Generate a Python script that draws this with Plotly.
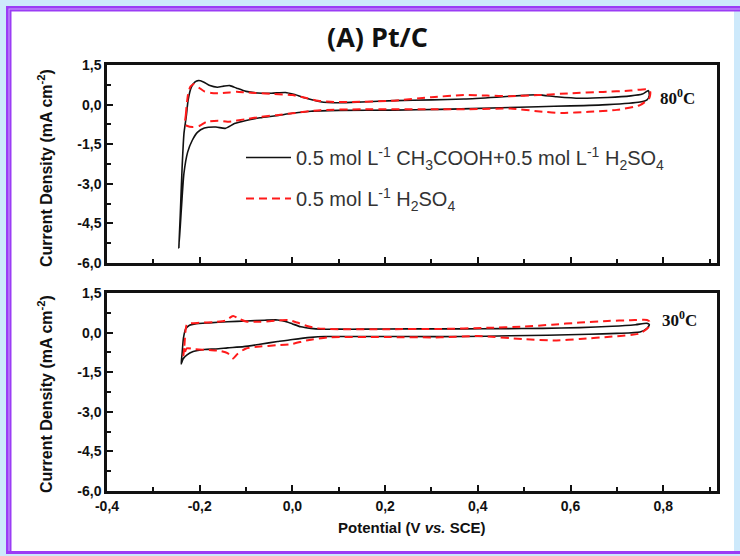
import plotly.graph_objects as go

# ---- Cyclic voltammograms on Pt/C (potential in V vs. SCE, current density in mA cm^-2) ----

# 80 °C, 0.5 mol/L CH3COOH + 0.5 mol/L H2SO4 (forward scan then reverse scan)
e_acid_80 = [-0.245, -0.242, -0.238, -0.234, -0.229, -0.225, -0.218, -0.21, -0.203, -0.192,
             -0.178, -0.162, -0.148, -0.135, -0.12, -0.1, -0.075, -0.045, -0.015, 0.005,
             0.03, 0.06, 0.1, 0.15, 0.22, 0.3, 0.37, 0.44, 0.5, 0.53,
             0.57, 0.62, 0.68, 0.73, 0.755, 0.768,
             0.77, 0.765, 0.75, 0.68, 0.6, 0.53, 0.45, 0.32, 0.22, 0.1,
             0.04, 0.0, -0.035, -0.07, -0.1, -0.125, -0.145, -0.165, -0.19, -0.205,
             -0.216, -0.226, -0.234, -0.239, -0.245]
j_acid_80 = [-5.43, -4.2, -2.4, -1.1, -0.45, 0.17, 0.66, 0.86, 0.91, 0.86,
             0.72, 0.66, 0.7, 0.72, 0.62, 0.5, 0.44, 0.43, 0.46, 0.38,
             0.24, 0.11, 0.07, 0.1, 0.15, 0.18, 0.21, 0.28, 0.35, 0.37,
             0.3, 0.24, 0.27, 0.33, 0.4, 0.53,
             0.35, 0.18, 0.1, 0.0, -0.05, -0.08, -0.12, -0.18, -0.21, -0.22,
             -0.25, -0.33, -0.42, -0.5, -0.6, -0.72, -0.9, -0.85, -0.89, -1.05,
             -1.35, -1.8, -2.6, -3.8, -5.43]

# 80 °C, 0.5 mol/L H2SO4
e_blank_80 = [-0.232, -0.23, -0.228, -0.225, -0.22, -0.212, -0.2, -0.19, -0.175, -0.155,
              -0.135, -0.12, -0.1, -0.08, -0.04, 0.0, 0.03, 0.055, 0.09, 0.13,
              0.22, 0.3, 0.37, 0.42, 0.47, 0.53, 0.6, 0.67, 0.73, 0.765,
              0.772, 0.77, 0.75, 0.7, 0.64, 0.58, 0.54, 0.47, 0.4, 0.32,
              0.15, 0.06, 0.0, -0.035, -0.07, -0.1, -0.14, -0.16, -0.185, -0.2,
              -0.215, -0.228, -0.232]
j_blank_80 = [-0.75, -0.4, 0.0, 0.4, 0.68, 0.78, 0.62, 0.5, 0.44, 0.43,
              0.46, 0.49, 0.46, 0.44, 0.4, 0.36, 0.25, 0.15, 0.1, 0.1,
              0.15, 0.28, 0.36, 0.34, 0.32, 0.36, 0.43, 0.48, 0.53, 0.58,
              0.48, 0.25, -0.02, -0.2, -0.27, -0.32, -0.27, -0.15, -0.17, -0.18,
              -0.18, -0.21, -0.33, -0.4, -0.47, -0.55, -0.65, -0.61, -0.65, -0.8,
              -0.85, -0.8, -0.75]

# 30 °C, 0.5 mol/L CH3COOH + 0.5 mol/L H2SO4
e_acid_30 = [-0.24, -0.238, -0.235, -0.23, -0.222, -0.21, -0.18, -0.14, -0.1, -0.06,
             -0.032, -0.015, 0.0, 0.018, 0.04, 0.06, 0.1, 0.15, 0.25, 0.37,
             0.45, 0.54, 0.62, 0.69, 0.74, 0.765,
             0.77, 0.765, 0.75, 0.7, 0.64, 0.55, 0.47, 0.37, 0.25, 0.1,
             0.07, 0.04, 0.0, -0.032, -0.07, -0.105, -0.14, -0.165, -0.19, -0.214,
             -0.228, -0.236, -0.24]
j_acid_30 = [-1.19, -0.8, -0.2, 0.15, 0.28, 0.33, 0.37, 0.41, 0.44, 0.47,
             0.48, 0.42, 0.33, 0.22, 0.16, 0.13, 0.13, 0.13, 0.14, 0.14,
             0.15, 0.16, 0.19, 0.24, 0.3, 0.35,
             0.3, 0.16, 0.02, -0.03, -0.06, -0.1, -0.12, -0.15, -0.15, -0.15,
             -0.15, -0.18, -0.26, -0.34, -0.44, -0.53, -0.58, -0.62, -0.64, -0.72,
             -0.85, -1.0, -1.19]

# 30 °C, 0.5 mol/L H2SO4
e_blank_30 = [-0.235, -0.233, -0.231, -0.228, -0.22, -0.2, -0.17, -0.145, -0.128, -0.115,
              -0.1, -0.07, -0.03, -0.01, 0.01, 0.03, 0.055, 0.1, 0.2, 0.32,
              0.42, 0.5, 0.56, 0.62, 0.68, 0.73, 0.765,
              0.77, 0.768, 0.75, 0.69, 0.62, 0.57, 0.5, 0.4, 0.32, 0.2,
              0.076, 0.03, 0.0, -0.035, -0.07, -0.1, -0.118, -0.128, -0.14, -0.16,
              -0.18, -0.21, -0.228, -0.235]
j_blank_30 = [-0.9, -0.5, 0.0, 0.3, 0.35, 0.37, 0.4, 0.45, 0.63, 0.52,
              0.42, 0.41, 0.46, 0.48, 0.38, 0.26, 0.16, 0.13, 0.13, 0.14,
              0.18, 0.23, 0.3, 0.38, 0.44, 0.47, 0.48,
              0.42, 0.2, -0.03, -0.15, -0.24, -0.3, -0.25, -0.13, -0.18, -0.17,
              -0.18, -0.3, -0.43, -0.48, -0.53, -0.6, -0.8, -0.98, -0.78, -0.68,
              -0.66, -0.63, -0.6, -0.9]

# Axis ticks
x_tickvals = [-0.4, -0.2, 0.0, 0.2, 0.4, 0.6, 0.8]
x_ticktext = ["-0,4", "-0,2", "0,0", "0,2", "0,4", "0,6", "0,8"]
x_minor = [-0.3, -0.1, 0.1, 0.3, 0.5, 0.7, 0.9]
y_tickvals = [1.5, 0.0, -1.5, -3.0, -4.5, -6.0]
y_ticktext = ["1,5", "0,0", "-1,5", "-3,0", "-4,5", "-6,0"]
y_minor = [0.75, -0.75, -2.25, -3.75, -5.25]

legend_acid = "0.5 mol L<sup>-1</sup> CH<sub>3</sub>COOH+0.5 mol L<sup>-1</sup> H<sub>2</sub>SO<sub>4</sub>"
legend_blank = "0.5 mol L<sup>-1</sup> H<sub>2</sub>SO<sub>4</sub>"

# ---- Figure geometry (pixels) ----
W, H = 740, 556
L, R, T, B = 107, 23, 65, 65
PW, PH = W - L - R, H - T - B


def px(xp):
    return (xp - L) / PW


def py(yp):
    return (H - B - yp) / PH


BLACK = "#111111"
RED = "#ff1a1a"
PURPLE = "#9b3cf5"
LAVENDER = "#c9a6fb"
SKY = "#cde9fb"

fig = go.Figure()
fig.add_trace(go.Scatter(x=e_acid_80, y=j_acid_80, mode="lines", name=legend_acid,
                         line=dict(color=BLACK, width=1.6, shape="spline", smoothing=0.6),
                         xaxis="x", yaxis="y", legendgroup="a"))
fig.add_trace(go.Scatter(x=e_blank_80, y=j_blank_80, mode="lines", name=legend_blank,
                         line=dict(color=RED, width=2, dash="8px,5px", shape="spline", smoothing=0.6),
                         xaxis="x", yaxis="y", legendgroup="b"))
fig.add_trace(go.Scatter(x=e_acid_30, y=j_acid_30, mode="lines", name=legend_acid, showlegend=False,
                         line=dict(color=BLACK, width=1.6, shape="spline", smoothing=0.6),
                         xaxis="x2", yaxis="y2"))
fig.add_trace(go.Scatter(x=e_blank_30, y=j_blank_30, mode="lines", name=legend_blank, showlegend=False,
                         line=dict(color=RED, width=2, dash="8px,5px", shape="spline", smoothing=0.6),
                         xaxis="x2", yaxis="y2"))

tick_font = dict(family="Liberation Sans, Arial, sans-serif", size=14, color="#111111", weight="bold")

xcommon = dict(range=[-0.4, 0.916], showgrid=False, zeroline=False, showline=True,
               linecolor=BLACK, linewidth=2.5, mirror=True, ticks="inside", ticklen=6,
               tickwidth=2, tickcolor=BLACK, tickvals=x_tickvals, ticktext=x_ticktext,
               minor=dict(tickvals=x_minor, ticks="inside", ticklen=4, tickwidth=2, tickcolor=BLACK),
               tickfont=tick_font)
ycommon = dict(range=[-6.0, 1.5], showgrid=False, zeroline=False, showline=True,
               linecolor=BLACK, linewidth=2.5, mirror=True, ticks="inside", ticklen=6,
               tickwidth=2, tickcolor=BLACK, tickvals=y_tickvals, ticktext=y_ticktext,
               minor=dict(tickvals=y_minor, ticks="inside", ticklen=4, tickwidth=2, tickcolor=BLACK),
               tickfont=tick_font)

top_dom = [py(263), 1.0]
bot_dom = [0.0, py(293)]

shapes = []


def rect(x0, y0, x1, y1, color):
    shapes.append(dict(type="rect", xref="paper", yref="paper", layer="below",
                       x0=px(x0), x1=px(x1), y0=py(y1), y1=py(y0),
                       fillcolor=color, line=dict(width=0)))


# Slide frame: double violet rule on top and left, single rule at the bottom
rect(6, 6, 740, 554, PURPLE)
rect(8.5, 8.5, 740, 551, LAVENDER)
rect(9.5, 9.5, 740, 551, PURPLE)
rect(11.5, 11.5, 734, 551, "white")
rect(734, 11.5, 740, 551, SKY)

annotations = [
    dict(text="<b>(A) Pt/C</b>", xref="paper", yref="paper", x=px(377), y=py(37),
         xanchor="center", yanchor="middle", showarrow=False,
         font=dict(family="Open Sans, sans-serif", size=27, color="#111111")),
    dict(text="Current Density (mA cm<sup>-2</sup>)", xref="paper", yref="paper",
         x=px(45), y=py(168), textangle=-90, xanchor="center", yanchor="middle", showarrow=False,
         font=dict(family="Liberation Sans, Arial, sans-serif", size=16, color="#111111", weight="bold")),
    dict(text="Current Density (mA cm<sup>-2</sup>)", xref="paper", yref="paper",
         x=px(45), y=py(394), textangle=-90, xanchor="center", yanchor="middle", showarrow=False,
         font=dict(family="Liberation Sans, Arial, sans-serif", size=16, color="#111111", weight="bold")),
    dict(text="Potential (V <i>vs.</i> SCE)", xref="paper", yref="paper",
         x=px(412), y=py(527), xanchor="center", yanchor="middle", showarrow=False,
         font=dict(family="Liberation Sans, Arial, sans-serif", size=15, color="#111111", weight="bold")),
    dict(text="80<sup>0</sup>C", xref="paper", yref="paper", x=px(658), y=py(97),
         xanchor="left", yanchor="middle", showarrow=False,
         font=dict(family="Liberation Serif, Times New Roman, serif", size=17, color="#111111", weight="bold")),
    dict(text="30<sup>0</sup>C", xref="paper", yref="paper", x=px(660), y=py(319),
         xanchor="left", yanchor="middle", showarrow=False,
         font=dict(family="Liberation Serif, Times New Roman, serif", size=17, color="#111111", weight="bold")),
]

fig.update_layout(
    width=W, height=H,
    margin=dict(l=L, r=R, t=T, b=B),
    paper_bgcolor=SKY, plot_bgcolor="white",
    xaxis=dict(xcommon, anchor="y", showticklabels=False),
    yaxis=dict(ycommon, anchor="x", domain=top_dom),
    xaxis2=dict(xcommon, anchor="y2"),
    yaxis2=dict(ycommon, anchor="x2", domain=bot_dom),
    showlegend=True,
    legend=dict(x=px(241), y=py(138), xanchor="left", yanchor="top",
                bgcolor="rgba(0,0,0,0)", borderwidth=0, tracegroupgap=12, itemwidth=45,
                font=dict(family="Liberation Sans, Arial, sans-serif", size=20, color="#333333")),
    shapes=shapes,
    annotations=annotations,
)

fig.write_html("out.html")
